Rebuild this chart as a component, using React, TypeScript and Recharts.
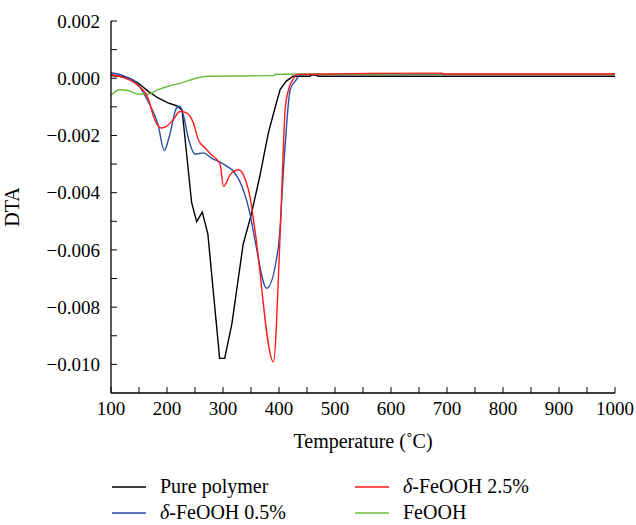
import { LineChart, Line, XAxis, YAxis } from 'recharts';

// temperatures (°C) and DTA readings for each sample
const pureTemp = [100, 120, 135, 148, 166, 184, 202, 218, 227, 244, 253, 263, 273, 294, 303, 316, 336, 350, 366, 375, 381, 392, 402, 413, 425, 455, 458, 466, 470, 1000];
const pureDta = [0.00009, 0.00006, -0.00002, -0.00016, -0.00045, -0.00069, -0.00086, -0.00097, -0.00112, -0.00435, -0.00501, -0.00468, -0.00545, -0.00979, -0.00979, -0.00857, -0.0058, -0.0048, -0.0034, -0.0025, -0.00191, -0.0011, -0.0004, -0.0001, 0.00007, 0.00007, 0.00011, 0.00011, 0.00007, 0.00007];

const blueTemp = [100, 124, 148, 166, 184, 195, 205, 217, 223, 229, 238, 250, 265, 280, 297, 307, 319, 334, 348, 357, 378, 399, 410, 420, 431, 437, 1000];
const blueDta = [0.00019, 0.00007, -0.00022, -0.0008, -0.00162, -0.00253, -0.00197, -0.00104, -0.00098, -0.00127, -0.00209, -0.00265, -0.00261, -0.0028, -0.00296, -0.00308, -0.00326, -0.00378, -0.00471, -0.00565, -0.00734, -0.00588, -0.0026, -0.0004, -0.00005, 0.00013, 0.00015];

const redTemp = [100, 124, 148, 166, 178, 190, 199, 211, 223, 235, 247, 256, 268, 279, 292, 295, 301, 313, 328, 340, 348, 357, 390, 402, 411, 417, 425, 431, 690, 695, 1000];
const redDta = [0.00013, 0.00001, -0.00025, -0.00069, -0.00145, -0.00174, -0.00168, -0.00145, -0.00116, -0.00121, -0.00156, -0.00215, -0.00244, -0.00267, -0.00291, -0.00302, -0.00378, -0.00337, -0.0032, -0.00355, -0.00413, -0.0053, -0.00991, -0.0055, -0.0011, -0.0004, -0.00005, 0.00013, 0.00018, 0.00015, 0.00015];

const feTemp = [100, 115, 130, 148, 166, 184, 202, 226, 250, 273, 391, 393, 1000];
const feDta = [-0.0006, -0.0004, -0.00043, -0.00055, -0.00055, -0.0004, -0.00028, -0.00016, -0.00001, 0.00007, 0.00009, 0.00014, 0.00016];

const xTicks = [100, 150, 200, 250, 300, 350, 400, 450, 500, 550, 600, 650, 700, 750, 800, 850, 900, 950, 1000];
const yTicks = [-0.010, -0.009, -0.008, -0.007, -0.006, -0.005, -0.004, -0.003, -0.002, -0.001, 0, 0.001, 0.002];

const legendItems = [
  { name: 'Pure polymer', color: '#000000' },
  { name: 'δ-FeOOH 2.5%', color: '#ff1a1a' },
  { name: 'δ-FeOOH 0.5%', color: '#2a4ea6' },
  { name: 'FeOOH', color: '#6cbd3a' },
];

const zip = (t: number[], v: number[]) => t.map((x, i) => ({ t: x, v: v[i] }));

const pureData = zip(pureTemp, pureDta);
const blueData = zip(blueTemp, blueDta);
const redData = zip(redTemp, redDta);
const feData = zip(feTemp, feDta);

const FONT = "'Liberation Serif', 'DejaVu Serif', serif";

const formatY = (v: number) => {
  const k = Math.round(v * 1000);
  if (k % 2 !== 0) return '';
  if (k === 0) return '0.000';
  return (k < 0 ? '\u2212' : '') + Math.abs(v).toFixed(3);
};

const formatX = (v: number) => (v % 100 === 0 ? String(v) : '');

const LegendLabel = ({ name }: { name: string }) => {
  if (name.startsWith('δ')) {
    return (
      <span>
        <i>δ</i>
        {name.slice(1)}
      </span>
    );
  }
  return <span>{name}</span>;
};

const tickStyle = { fill: '#000', fontSize: 19, fontFamily: FONT, style: { fontFamily: FONT } };

const App = () => {
  return (
    <div style={{ position: 'absolute', left: 0, top: 0, width: 636, height: 525, background: '#fff', fontFamily: FONT }}>
      <LineChart width={636} height={525} margin={{ top: 21, right: 21, bottom: 72, left: 0 }} style={{ fontFamily: FONT }}>
        <XAxis
          dataKey="t"
          type="number"
          domain={[100, 1000]}
          ticks={xTicks}
          tickFormatter={formatX}
          interval={0}
          height={60}
          tickSize={-6}
          tickMargin={15}
          axisLine={{ stroke: '#000', strokeWidth: 1.3 }}
          tickLine={{ stroke: '#000' }}
          tick={tickStyle}
          label={{ value: 'Temperature (˚C)', position: 'insideBottom', offset: 5, fill: '#000', fontSize: 20, style: { fontFamily: FONT } }}
        />
        <XAxis xAxisId="top" orientation="top" type="number" domain={[100, 1000]} height={0} tick={false} tickLine={false} axisLine={{ stroke: '#000', strokeWidth: 1.3 }} />
        <YAxis
          type="number"
          domain={[-0.011, 0.002]}
          ticks={yTicks}
          tickFormatter={formatY}
          interval={0}
          width={111}
          tickSize={-6}
          tickMargin={17}
          axisLine={{ stroke: '#000', strokeWidth: 1.3 }}
          tickLine={{ stroke: '#000' }}
          tick={tickStyle}
          label={{ value: 'DTA', angle: -90, position: 'insideLeft', offset: 12, fill: '#000', fontSize: 20, style: { textAnchor: 'middle', fontFamily: FONT } }}
        />
        <YAxis yAxisId="right" orientation="right" type="number" domain={[-0.011, 0.002]} width={0} tick={false} tickLine={false} axisLine={{ stroke: '#000', strokeWidth: 1.3 }} />
        <Line data={pureData} dataKey="v" type="linear" stroke="#000000" strokeWidth={1.4} dot={false} isAnimationActive={false} />
        <Line data={blueData} dataKey="v" type="monotone" stroke="#2a4ea6" strokeWidth={1.4} dot={false} isAnimationActive={false} />
        <Line data={feData} dataKey="v" type="monotone" stroke="#6cbd3a" strokeWidth={1.4} dot={false} isAnimationActive={false} />
        <Line data={redData} dataKey="v" type="monotone" stroke="#ff1a1a" strokeWidth={1.4} dot={false} isAnimationActive={false} />
      </LineChart>
      <div style={{ position: 'absolute', left: 112, top: 475, width: 500, display: 'grid', gridTemplateColumns: '243px 250px', rowGap: 3, fontSize: 20, color: '#000' }}>
        {legendItems.map((it) => (
          <div key={it.name} style={{ display: 'flex', alignItems: 'center', height: 23, whiteSpace: 'nowrap' }}>
            <svg width={34} height={4} style={{ marginRight: 14 }}>
              <line x1={0} y1={2} x2={34} y2={2} stroke={it.color} strokeWidth={1.4} />
            </svg>
            <LegendLabel name={it.name} />
          </div>
        ))}
      </div>
    </div>
  );
};

export default App;
